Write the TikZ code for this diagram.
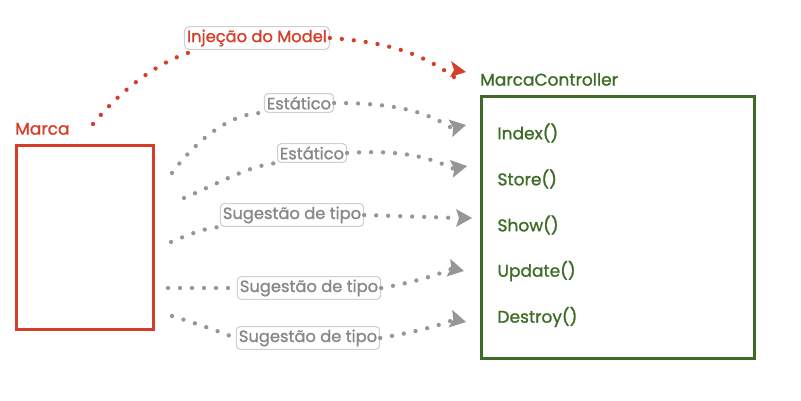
\documentclass[tikz,border=0pt]{standalone}
\usepackage{fontspec}
\setmainfont{Poppins}[RawFeature={embolden=1.2}]
\usetikzlibrary{arrows.meta}
\definecolor{cred}{RGB}{214,62,42}
\definecolor{cgreen}{RGB}{62,108,38}
\definecolor{cgray}{RGB}{150,150,150}
\definecolor{cgraytxt}{RGB}{135,135,135}
\definecolor{cborder}{RGB}{208,208,208}
\tikzset{
  lbl/.style={draw=cborder, line width=1.1pt, rounded corners=4pt, fill=white, inner xsep=2.5pt, inner ysep=3pt, font=\fontsize{16.3}{18}\selectfont, text=cgraytxt},
  rlbl/.style={lbl, text=cred},
  dotline/.style={line width=4.3pt, line cap=round, dash pattern=on 0pt off 12pt},
  gdot/.style={dotline, draw=cgray},
  rdot/.style={dotline, draw=cred},
  meth/.style={anchor=west, text=cgreen, font=\fontsize{17}{19}\selectfont},
  ttl/.style={anchor=south west, inner sep=0pt, font=\fontsize{17}{19}\selectfont},
}
\begin{document}
\begin{tikzpicture}[x=1pt,y=-1pt]
\useasboundingbox (0,0) rectangle (801,401);
% boxes
\node[draw=cred, line width=2.8pt, minimum width=137pt, minimum height=184pt, anchor=north west, inner sep=0pt] (marca) at (15,144) {};
\node[ttl, text=cred] (marcat) at (15,135) {Marca};
\node[draw=cgreen, line width=2.8pt, minimum width=273pt, minimum height=262pt, anchor=north west, inner sep=0pt] (ctrl) at (480,95) {};
\node[ttl, text=cgreen] (ctrlt) at (480,86) {MarcaController};
\node[meth] (m1) at (494,133) {Index()};
\node[meth] (m2) at (494,179) {Store()};
\node[meth] (m3) at (494,225) {Show()};
\node[meth] (m4) at (494,271) {Update()};
\node[meth] (m5) at (494,317) {Destroy()};
% labels
\node[rlbl] (lr) at (257,38) {Injeção do Model};
\node[lbl] (l1) at (299,103) {Estático};
\node[lbl] (l2) at (312,153) {Estático};
\node[lbl] (l3) at (292,215) {Sugestão de tipo};
\node[lbl] (l4) at (309,288) {Sugestão de tipo};
\node[lbl] (l5) at (308,338) {Sugestão de tipo};
% free ends
\coordinate (sr) at (93,124);
\coordinate (s1) at (172,173);
\coordinate (s2) at (184,198);
\coordinate (s3) at (171,242);
\coordinate (s4) at (168,288);
\coordinate (s5) at (172,316);
\coordinate (er) at (466,72);
\coordinate (e1) at (466,125);
\coordinate (e2) at (467,166);
\coordinate (e3) at (472,218);
\coordinate (e4) at (464,271);
\coordinate (e5) at (466,322);
% red connector
\draw[rdot] (sr) .. controls (125,85) and (165,58) .. ([xshift=14pt]lr.south west);
\draw[rdot] (lr.east) .. controls (385,42) and (420,52) .. ([xshift=-12pt,yshift=-5pt]er);
\fill[cred] (er) -- ++(-15,-11) -- ++(3,9) -- ++(-4,7) -- cycle;
% gray connectors
\draw[gdot] (s1) .. controls (200,135) and (235,112) .. (l1.south west);
\draw[gdot] (l1.east) .. controls (390,103) and (425,110) .. ([xshift=-13pt,yshift=-4pt]e1);
\draw[gdot] (s2) .. controls (215,185) and (250,165) .. (l2.south west);
\draw[gdot] (l2.east) .. controls (395,150) and (425,155) .. ([xshift=-13pt,yshift=-3pt]e2);
\draw[gdot] (s3) .. controls (190,234) and (205,228) .. (l3.south west);
\draw[gdot] (l3.east) -- ([xshift=-14pt]e3);
\draw[gdot] (s4) -- (l4.west);
\draw[gdot] (l4.east) .. controls (410,283) and (435,276) .. ([xshift=-13pt,yshift=2pt]e4);
\draw[gdot] (s5) .. controls (195,323) and (215,330) .. (l5.west);
\draw[gdot] (l5.east) .. controls (410,333) and (435,327) .. ([xshift=-13pt,yshift=2pt]e5);
\foreach \e/\a in {e1/12,e2/10,e3/0,e4/-12,e5/-12}{
  \fill[cgray, rotate around={\a:(\e)}] (\e) -- ++(-16,-9) -- ++(3,9) -- ++(-3,9) -- cycle;
}
\end{tikzpicture}
\end{document}
